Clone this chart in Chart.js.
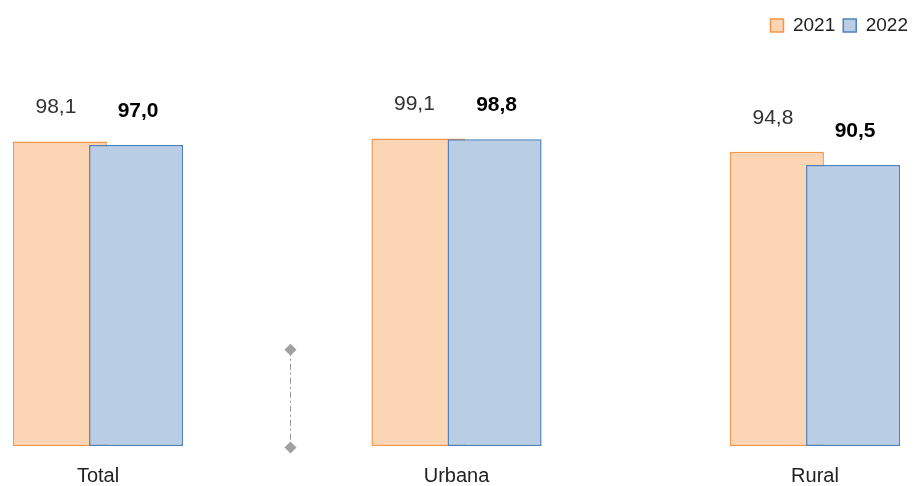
<!DOCTYPE html>
<html lang="es">
<head>
  <meta charset="UTF-8" />
  <title>Total, Urbana, Rural 2021-2022</title>
  <script src="https://cdn.jsdelivr.net/npm/chart.js"></script>
  <style>
    html, body { margin: 0; padding: 0; background: #fff; }
    #wrap { width: 916px; height: 486px; }
  </style>
</head>
<body>
  <div id="wrap"><canvas id="chart"></canvas></div>
  <script>
    const categories = ["Total", "Urbana", "Rural"];
    const values2021 = [98.1, 99.1, 94.8];
    const values2022 = [97.0, 98.8, 90.5];
    const seriesNames = ["2021", "2022"];

    const fontName = "'Liberation Sans', Arial, sans-serif";
    const yMax = 129.2;

    // value labels above each bar (2022 in bold)
    const valueLabels = {
      id: "valueLabels",
      afterDatasetsDraw(chart) {
        const ctx = chart.ctx;
        ctx.save();
        ctx.textAlign = "center";
        ctx.textBaseline = "middle";
        chart.data.datasets.forEach((ds, i) => {
          const meta = chart.getDatasetMeta(i);
          ctx.font = (i === 1 ? "bold " : "") + "21px " + fontName;
          ctx.fillStyle = i === 1 ? "#000" : "#333";
          meta.data.forEach((bar, j) => {
            const shift = i === 0 ? -4 : 2;
            ctx.fillText(ds.data[j].toFixed(1).replace(".", ","), bar.x + shift, bar.y - 34);
          });
        });
        ctx.restore();
      }
    };

    // draw 2022 over 2021 (chart.js draws dataset 0 last by default)
    const drawOrder = {
      id: "drawOrder",
      beforeDatasetDraw(chart, args) {
        if (args.index === 1) return false;
      },
      afterDatasetsDraw(chart) {
        chart.getDatasetMeta(1).controller.draw();
      }
    };

    // little dash-dot marker between Total and Urbana
    const marker = {
      id: "marker",
      afterDraw(chart) {
        const ctx = chart.ctx;
        const x = Math.round(chart.scales.x.getPixelForValue(0.535)) + 0.5;
        const y1 = chart.scales.y.getPixelForValue(31);
        const y2 = chart.scales.y.getPixelForValue(-0.5);
        ctx.save();
        ctx.strokeStyle = "#999";
        ctx.lineWidth = 1;
        ctx.setLineDash([6, 3, 2, 3]);
        ctx.beginPath();
        ctx.moveTo(x, y1);
        ctx.lineTo(x, y2);
        ctx.stroke();
        ctx.fillStyle = "#a0a0a0";
        [y1, y2].forEach(y => {
          ctx.beginPath();
          ctx.moveTo(x, y - 6);
          ctx.lineTo(x + 6, y);
          ctx.lineTo(x, y + 6);
          ctx.lineTo(x - 6, y);
          ctx.closePath();
          ctx.fill();
        });
        ctx.restore();
      }
    };

    new Chart(document.getElementById("chart"), {
      type: "bar",
      data: {
        labels: categories,
        datasets: [
          {
            label: seriesNames[0],
            data: values2021,
            backgroundColor: "#fcd5b5",
            borderColor: "#f79646",
            borderWidth: 1.5,
            borderSkipped: false
          },
          {
            label: seriesNames[1],
            data: values2022,
            backgroundColor: "#b9cde5",
            borderColor: "#4f81bd",
            borderWidth: 1.5,
            borderSkipped: false
          }
        ]
      },
      options: {
        responsive: true,
        maintainAspectRatio: false,
        animation: false,
        categoryPercentage: 0.425,
        barPercentage: 1.234,
        clip: false,
        layout: { padding: { top: 8, left: 0, right: 0, bottom: 0 } },
        plugins: {
          legend: {
            position: "top",
            align: "end",
            labels: {
              boxWidth: 13,
              boxHeight: 13,
              padding: 8,
              color: "#222",
              font: { family: fontName, size: 19 }
            }
          },
          tooltip: { enabled: false }
        },
        scales: {
          x: {
            offset: false,
            grid: { display: false },
            border: { display: false },
            ticks: {
              color: "#222",
              padding: 12,
              font: { family: fontName, size: 20, lineHeight: 1 }
            },
            afterFit(scale) { scale.height = 40; }
          },
          y: {
            min: 0,
            max: yMax,
            grid: { display: false },
            border: { display: false },
            ticks: { display: false },
            afterFit(scale) { scale.width = 98; }
          },
          y2: {
            position: "right",
            min: 0,
            max: yMax,
            grid: { display: false },
            border: { display: false },
            ticks: { display: false },
            afterFit(scale) { scale.width = 101; }
          }
        }
      },
      plugins: [drawOrder, valueLabels, marker]
    });
  </script>
</body>
</html>
